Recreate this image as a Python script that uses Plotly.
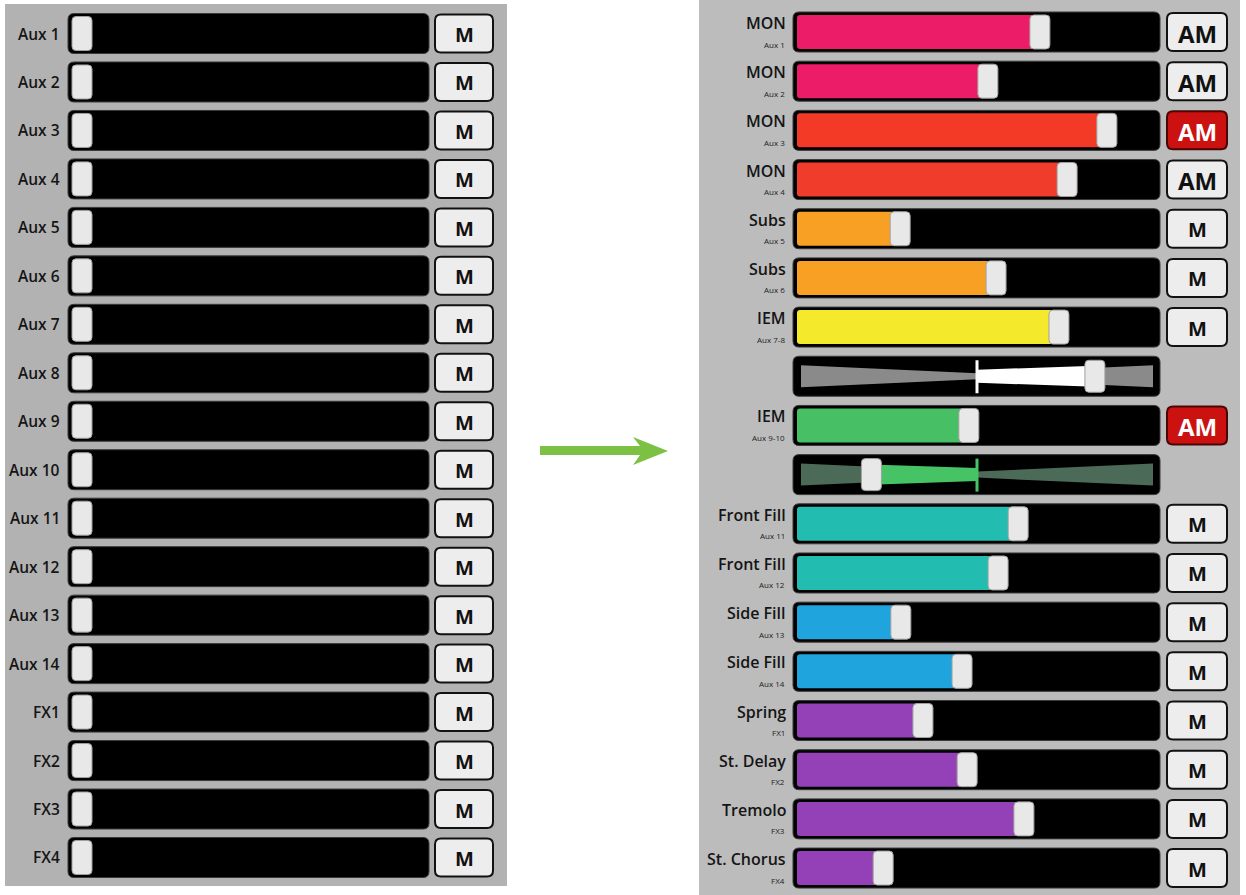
import plotly.graph_objects as go

W, H = 1246, 895

# ---- data -----------------------------------------------------------------
left_labels = ["Aux 1", "Aux 2", "Aux 3", "Aux 4", "Aux 5", "Aux 6", "Aux 7", "Aux 8", "Aux 9",
               "Aux 10", "Aux 11", "Aux 12", "Aux 13", "Aux 14", "FX1", "FX2", "FX3", "FX4"]
left_levels = [0.0, 0.0, 0.0, 0.0, 0.0, 0.0, 0.0, 0.0, 0.0,
               0.0, 0.0, 0.0, 0.0, 0.0, 0.0, 0.0, 0.0, 0.0]
left_mute = ["M", "M", "M", "M", "M", "M", "M", "M", "M",
             "M", "M", "M", "M", "M", "M", "M", "M", "M"]

right_names = ["MON", "MON", "MON", "MON", "Subs", "Subs", "IEM", "IEM", "Front Fill", "Front Fill",
               "Side Fill", "Side Fill", "Spring", "St. Delay", "Tremolo", "St. Chorus"]
right_buses = ["Aux 1", "Aux 2", "Aux 3", "Aux 4", "Aux 5", "Aux 6", "Aux 7-8", "Aux 9-10", "Aux 11",
               "Aux 12", "Aux 13", "Aux 14", "FX1", "FX2", "FX3", "FX4"]
right_levels = [0.685, 0.532, 0.882, 0.765, 0.274, 0.556, 0.741, 0.476, 0.621, 0.562,
                0.276, 0.456, 0.341, 0.471, 0.638, 0.224]
right_mute = ["AM", "AM", "AM", "AM", "M", "M", "M", "AM", "M", "M", "M", "M", "M", "M", "M", "M"]
right_mute_on = [False, False, True, False, False, False, False, True,
                 False, False, False, False, False, False, False, False]

pan_buses = ["Aux 7-8", "Aux 9-10"]
pan_values = [0.67, -0.60]

# ---- styles ---------------------------------------------------------------
right_colors = ["#ec1c68", "#ec1c68", "#f33a27", "#f03c2a", "#f7a023", "#f7a023", "#f4ea2b", "#47c065",
                "#22bdb0", "#22bdb0", "#1fa4dd", "#1fa4dd", "#9441b8", "#9441b8", "#9441b8", "#9441b8"]
pan_fill_colors = {"Aux 7-8": "#ffffff", "Aux 9-10": "#46c465"}
pan_wedge_colors = {"Aux 7-8": "#8a8a8a", "Aux 9-10": "#4b6a57"}
FONT = "Open Sans"
LEFT_GRAY = "#b2b2b2"
RIGHT_GRAY = "#bcbcbc"

LEFT_Y0, LEFT_STEP = 33.5, 48.47
RIGHT_Y0, RIGHT_STEP = 32.0, 49.18


def rr_path(x0, y0, x1, y1, r):
    return (f"M{x0 + r},{y0} L{x1 - r},{y0} Q{x1},{y0} {x1},{y0 + r} "
            f"L{x1},{y1 - r} Q{x1},{y1} {x1 - r},{y1} L{x0 + r},{y1} "
            f"Q{x0},{y1} {x0},{y1 - r} L{x0},{y0 + r} Q{x0},{y0} {x0 + r},{y0} Z")


shapes = []
annotations = []
fig = go.Figure()


def add_rect(x0, y0, x1, y1, r, fill, line="rgba(0,0,0,0)", lw=0, layer="below"):
    shapes.append(dict(type="path", xref="x", yref="y", path=rr_path(x0, y0, x1, y1, r),
                       fillcolor=fill, line=dict(color=line, width=lw), layer=layer))


def add_button(x0, x1, yc, label, active, size):
    fill = "#cc1111" if active else "#ededed"
    edge = "#4a0606" if active else "#111111"
    add_rect(x0, yc - 19, x1, yc + 19, 6, fill, edge, 2)
    annotations.append(dict(x=(x0 + x1) / 2, y=yc + 1, xref="x", yref="y", text=label, showarrow=False,
                            font=dict(family=FONT, size=size, color="white" if active else "#111111",
                                      weight="bold")))


def add_knob(xref, value, yc, off0, off1, half_h, layer="above"):
    shapes.append(dict(type="path", xref=xref, yref="y", xsizemode="pixel", xanchor=value,
                       path=rr_path(off0, yc - half_h, off1, yc + half_h, 4),
                       fillcolor="#e8e8e8", line=dict(color="#a0a0a0", width=1), layer=layer))


# panels
add_rect(5, 4, 507, 886, 0, LEFT_GRAY)
add_rect(699, 0, 1240, 895, 0, RIGHT_GRAY)

# ---- left panel -------------------------------------------------------------
for i, label in enumerate(left_labels):
    yc = LEFT_Y0 + i * LEFT_STEP
    add_rect(68, yc - 20, 429, yc + 20, 6, "#000000", "#3a3a3a", 1)
    annotations.append(dict(x=62, y=yc, xref="x", yref="y", text=label, showarrow=False, xanchor="right",
                            font=dict(family=FONT, size=15.5, color="#151515", weight=600)))
    add_knob("x4", left_levels[i], yc, 4, 24, 17)
    add_button(435, 493, yc, left_mute[i], False, 20)

# ---- right panel ------------------------------------------------------------
rows = []
for i, bus in enumerate(right_buses):
    rows.append(("ch", i))
    if bus in pan_buses:
        rows.append(("pan", pan_buses.index(bus)))

bar_y, bar_x, bar_c = [], [], []
for k, (kind, idx) in enumerate(rows):
    yc = RIGHT_Y0 + k * RIGHT_STEP
    add_rect(793, yc - 20, 1160, yc + 20, 6, "#000000", "#3a3a3a", 1)
    if kind == "ch":
        bar_y.append(yc)
        bar_x.append(right_levels[idx] + 0.03)
        bar_c.append(right_colors[idx])
        add_knob("x2", right_levels[idx], yc, 0, 20, 17)
        annotations.append(dict(x=788, y=yc - 9, xref="x", yref="y", text=right_names[idx], showarrow=False,
                                xanchor="right", font=dict(family=FONT, size=16, color="#151515", weight=600)))
        annotations.append(dict(x=787, y=yc + 12, xref="x", yref="y", text=right_buses[idx], showarrow=False,
                                xanchor="right", font=dict(family=FONT, size=8, color="#222222")))
        add_button(1167, 1227, yc, right_mute[idx], right_mute_on[idx], 24 if right_mute[idx] == "AM" else 20)
    else:
        bus = pan_buses[idx]
        pan = pan_values[idx]
        # tapered pan wedge
        fig.add_trace(go.Scatter(
            x=[-1, 0, 1, 1, 0, -1, -1], y=[yc - 11, yc - 3, yc - 11, yc + 11, yc + 3, yc + 11, yc - 11],
            xaxis="x3", yaxis="y", mode="lines", fill="toself", fillcolor=pan_wedge_colors[bus],
            line=dict(width=0), hoverinfo="skip", showlegend=False))
        # filled part from centre to pan position
        h0, h1 = 6.5, 6.5 + 6.0 * abs(pan)
        fig.add_trace(go.Scatter(
            x=[0, pan, pan, 0, 0], y=[yc - h0, yc - h1, yc + h1, yc + h0, yc - h0],
            xaxis="x3", yaxis="y", mode="lines", fill="toself", fillcolor=pan_fill_colors[bus],
            line=dict(width=0), hoverinfo="skip", showlegend=False))
        shapes.append(dict(type="line", xref="x3", yref="y", x0=0, x1=0, y0=yc - 16, y1=yc + 17,
                           line=dict(color=pan_fill_colors[bus], width=3), layer="above"))
        add_knob("x3", pan, yc, -10, 10, 16)

fig.add_trace(go.Bar(x=bar_x, y=bar_y, base=0, orientation="h", width=34, xaxis="x2", yaxis="y",
                     marker=dict(color=bar_c, line=dict(width=0)), hoverinfo="skip", showlegend=False))

# ---- arrow ------------------------------------------------------------------
shapes.append(dict(type="path", xref="x", yref="y",
                   path="M540,446 L640,446 L633,437 L668,451 L633,465 L640,455 L540,455 Z",
                   fillcolor="#7cc143", line=dict(width=0), layer="above"))

hidden = dict(visible=False, fixedrange=True, showgrid=False, zeroline=False)
fig.update_layout(
    width=W, height=H, margin=dict(l=0, r=0, t=0, b=0),
    paper_bgcolor="white", plot_bgcolor="rgba(0,0,0,0)",
    showlegend=False, barcornerradius=3,
    xaxis=dict(range=[0, W], domain=[0, 1], **hidden),
    yaxis=dict(range=[H, 0], domain=[0, 1], **hidden),
    xaxis2=dict(range=[0, 1], domain=[797 / W, 1137 / W], anchor="y", **hidden),
    xaxis3=dict(range=[-1, 1], domain=[801 / W, 1153 / W], anchor="y", **hidden),
    xaxis4=dict(range=[0, 1], domain=[68 / W, 429 / W], anchor="y", **hidden),
    shapes=shapes, annotations=annotations,
)
fig.write_html("out.html", config={"displayModeBar": False},
               post_script="document.body.style.margin='0';")
